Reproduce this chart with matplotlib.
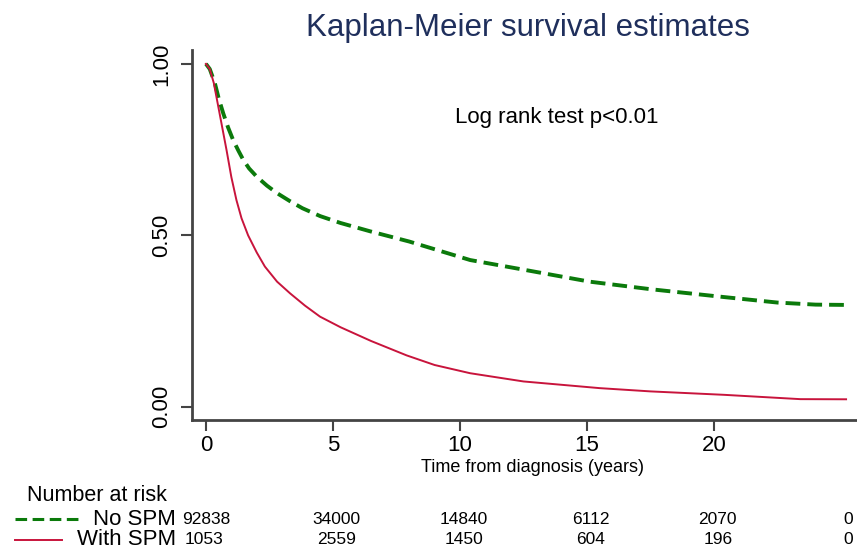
import matplotlib.pyplot as plt
import matplotlib.transforms as mtransforms

plt.rcParams['font.family'] = ['Liberation Sans', 'DejaVu Sans']

# survival estimates
t_no = [0, 0.15, 0.35, 0.5, 0.68, 0.87, 1.07, 1.27, 1.47, 1.7, 2.0, 2.4, 2.8, 3.3, 3.8, 4.5, 5.3, 6.5, 8.0, 9.2,
        10.4, 12.5, 15.1, 17.5, 20.4, 22.5, 24.0, 25.35]
s_no = [1.0, 0.985, 0.944, 0.90, 0.856, 0.815, 0.778, 0.748, 0.72, 0.695, 0.671, 0.645, 0.623, 0.60, 0.579, 0.556,
        0.536, 0.511, 0.482, 0.455, 0.428, 0.40, 0.365, 0.343, 0.32, 0.304, 0.298, 0.297]

t_with = [0, 0.15, 0.31, 0.5, 0.81, 1.0, 1.2, 1.4, 1.66, 2.0, 2.32, 2.8, 3.31, 3.9, 4.49, 5.3, 6.5, 7.9, 9.0,
          10.4, 12.5, 15.5, 17.5, 20.4, 23.4, 25.2]
s_with = [1.0, 0.985, 0.944, 0.87, 0.749, 0.67, 0.603, 0.55, 0.50, 0.45, 0.409, 0.365, 0.331, 0.295, 0.263,
          0.232, 0.192, 0.15, 0.122, 0.098, 0.074, 0.0545, 0.045, 0.035, 0.0224, 0.022]

risk_times = [0, 5, 10, 15, 20, 25.3]
risk_no = ["92838", "34000", "14840", "6112", "2070", "0"]
risk_with = ["1053", "2559", "1450", "604", "196", "0"]

green = "#0b7a0b"
red = "#c8143c"

fig = plt.figure(figsize=(8.57, 5.51), dpi=100)
ax = fig.add_axes([0.224, 0.238, 0.776, 0.671])

ax.plot(t_no, s_no, color=green, lw=2.8, dashes=(3.8, 1.8))
ax.plot(t_with, s_with, color=red, lw=1.4)

ax.set_xlim(-0.55, 25.63)
ax.set_ylim(-0.038, 1.04)
ax.set_xticks([0, 5, 10, 15, 20])
ax.set_yticks([0, 0.5, 1.0])
ax.set_yticklabels(["0.00", "0.50", "1.00"], rotation=90, va="center")
ax.tick_params(axis="both", labelsize=16, length=8, width=1.5, color="#444444")
ax.tick_params(axis="x", pad=3)
ax.tick_params(axis="y", pad=6)
for s in ["top", "right"]:
    ax.spines[s].set_visible(False)
for s in ["left", "bottom"]:
    ax.spines[s].set_color("#444444")
    ax.spines[s].set_linewidth(2)

fig.text(0.616, 0.949, "Kaplan-Meier survival estimates", ha="center", va="center",
         fontsize=22.5, color="#1f2f5c")
ax.text(13.8, 0.843, "Log rank test p<0.01", ha="center", va="center", fontsize=16)
fig.text(0.621, 0.152, "Time from diagnosis (years)", ha="center", va="center", fontsize=13)

# number at risk table
fig.text(0.031, 0.101, "Number at risk", ha="left", va="center", fontsize=15.5)
fig.add_artist(plt.Line2D([0.018, 0.093], [0.058, 0.058], color=green, lw=2.2, dashes=(3.8, 1.8)))
fig.add_artist(plt.Line2D([0.018, 0.072], [0.02, 0.02], color=red, lw=1.4))
fig.text(0.205, 0.058, "No SPM", ha="right", va="center", fontsize=16)
fig.text(0.205, 0.02, "With SPM", ha="right", va="center", fontsize=16)

trans = mtransforms.blended_transform_factory(ax.transData, fig.transFigure)
for i, tt in enumerate(risk_times):
    if i == 0:
        ax.text(-0.95, 0.058, risk_no[i], transform=trans, ha="left", va="center", fontsize=12.5, clip_on=False)
        ax.text(-0.83, 0.02, risk_with[i], transform=trans, ha="left", va="center", fontsize=12.5, clip_on=False)
    else:
        dx = 0.15 if i < len(risk_times) - 1 else 0.0
        ax.text(tt + dx, 0.058, risk_no[i], transform=trans, ha="center", va="center", fontsize=12.5, clip_on=False)
        ax.text(tt + dx, 0.02, risk_with[i], transform=trans, ha="center", va="center", fontsize=12.5, clip_on=False)

fig.savefig("out.png", dpi=100)
